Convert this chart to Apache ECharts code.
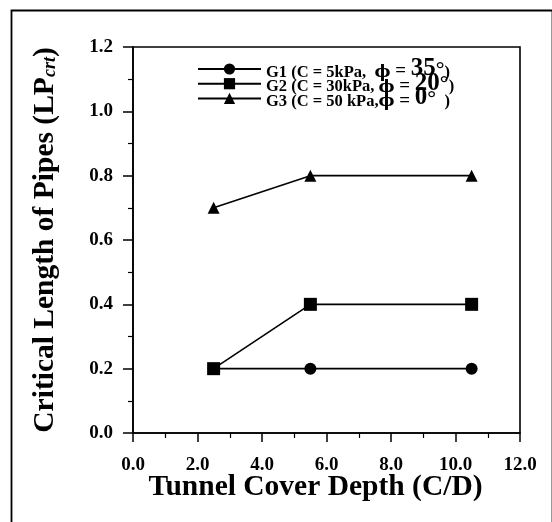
<!DOCTYPE html>
<html><head><meta charset="utf-8">
<script src="https://cdn.jsdelivr.net/npm/echarts@6/dist/echarts.min.js"></script>
<style>html,body{margin:0;padding:0;background:#fff}#c{width:552px;height:522px}</style>
</head><body><div id="c"></div>
<script>
const xValues = [2.5, 5.5, 10.5];
const g1 = [0.2, 0.2, 0.2];
const g2 = [0.2, 0.4, 0.4];
const g3 = [0.7, 0.8, 0.8];
const seriesNames = ['G1', 'G2', 'G3'];
const legendC = ['C = 5kPa,', 'C = 30kPa,', 'C = 50 kPa,'];
const legendPhi = ['35', '20', '0'];
const xTitle = 'Tunnel Cover Depth (C/D)';
const yTitle = 'Critical Length of Pipes (LP';
const yTitleSub = 'crt';

const F = '"Liberation Serif","Times New Roman",serif';
const chart = echarts.init(document.getElementById('c'));
const pts = v => xValues.map((x, i) => [x, v[i]]);
const lineStyle = {color: '#000', width: 1.6};
const mk = (name, data, symbol, size) => ({
  name, type: 'line', data: pts(data), symbol, symbolSize: size,
  itemStyle: {color: '#000'}, lineStyle, z: 3, animation: false
});
const legendFmt = {
  G1: '{t|G1 (' + legendC[0] + '  }{p|ϕ}{e| = }{n|' + legendPhi[0] + '}{d|°}{t|)}',
  G2: '{t|G2 (' + legendC[1] + ' }{p|ϕ}{e| = }{n|' + legendPhi[1] + '}{d|°}{t|)}',
  G3: '{t|G3 (' + legendC[2] + '}{p|ϕ}{e| = }{n|' + legendPhi[2] + '}{d|°}{t|  )}'
};
const rs = (size, lh, fam) => ({fontFamily: fam || F, fontWeight: 'bold', fontSize: size, lineHeight: lh, verticalAlign: 'bottom', color: '#000'});
const option = {
  backgroundColor: '#fff',
  animation: false,
  grid: {left: 133, right: 32, top: 47, bottom: 89, show: true, borderColor: '#000', borderWidth: 1.6},
  xAxis: {
    type: 'value', min: 0, max: 12, interval: 2,
    axisLine: {lineStyle: {color: '#000', width: 1.6}},
    axisTick: {inside: false, length: 9, lineStyle: {color: '#000', width: 1.5}},
    minorTick: {show: true, splitNumber: 2, length: 5, lineStyle: {color: '#000', width: 1.2}},
    splitLine: {show: false},
    axisLabel: {margin: 23, color: '#000', fontFamily: F, fontWeight: 'bold', fontSize: 19, formatter: v => v.toFixed(1)},
    name: xTitle, nameLocation: 'middle', nameGap: 54, nameMoveOverlap: false,
    nameTextStyle: {color: '#000', fontFamily: F, fontWeight: 'bold', fontSize: 29.5, verticalAlign: 'middle', padding: [0, 22, 0, 0]}
  },
  yAxis: {
    type: 'value', min: 0, max: 1.2, interval: 0.2,
    axisLine: {lineStyle: {color: '#000', width: 1.6}},
    axisTick: {inside: false, length: 10, lineStyle: {color: '#000', width: 1.5}},
    minorTick: {show: true, splitNumber: 2, length: 5, lineStyle: {color: '#000', width: 1.2}},
    splitLine: {show: false},
    axisLabel: {margin: 20, color: '#000', fontFamily: F, fontWeight: 'bold', fontSize: 19, formatter: v => v.toFixed(1)},
    name: '{a|' + yTitle + '}{s|' + yTitleSub + '}{a|)}', nameLocation: 'middle', nameGap: 88, nameRotate: 90, nameMoveOverlap: false,
    nameTextStyle: {color: '#000', fontFamily: F, fontWeight: 'bold', fontSize: 29.5, verticalAlign: 'middle',
      rich: {a: {fontFamily: F, fontWeight: 'bold', fontSize: 29.5, color: '#000'},
             s: {fontFamily: F, fontWeight: 'bold', fontStyle: 'italic', fontSize: 18, color: '#000', padding: [10, 0, 0, 0]}}}
  },
  legend: {
    orient: 'vertical', left: 192, top: 51, itemWidth: 63, itemHeight: 14, itemGap: -10.3,
    data: seriesNames,
    formatter: n => legendFmt[n],
    textStyle: {color: '#000', fontFamily: F, fontWeight: 'bold',
      rich: {
        t: rs(16.5, 18), p: rs(17, 18, 'DejaVu Serif'), e: rs(19, 19), n: rs(25, 24), d: rs(22, 24)
      }}
  },
  graphic: [{type: 'rect', left: 9, top: 8, shape: {width: 541, height: 540},
    style: {fill: 'none', stroke: '#000', lineWidth: 1.8}, silent: true, z: -1}],
  series: [mk(seriesNames[0], g1, 'circle', 12), mk(seriesNames[1], g2, 'rect', 13), mk(seriesNames[2], g3, 'triangle', 12)]
};
chart.setOption(option);
</script></body></html>
